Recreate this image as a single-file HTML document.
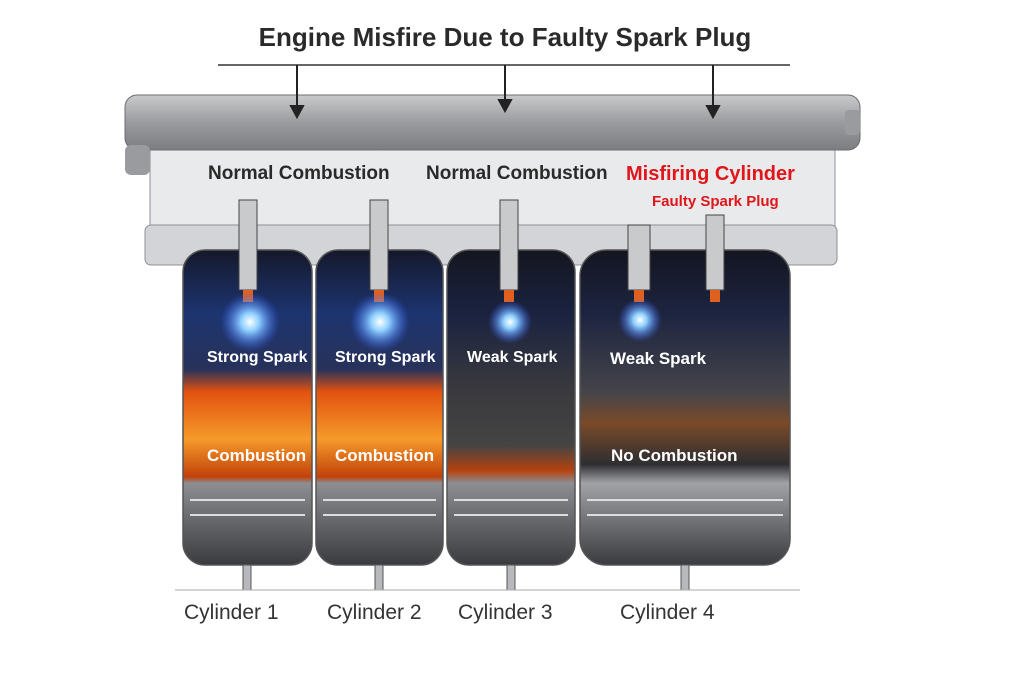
<!DOCTYPE html>
<html><head><style>
body{margin:0;background:#fff;}
#c{position:relative;width:1024px;height:683px;overflow:hidden;font-family:"Liberation Sans",sans-serif;}
.t{position:absolute;white-space:nowrap;font-weight:bold;}
</style></head><body><div id="c">
<svg width="1024" height="683" style="position:absolute;left:0;top:0">
<defs>
<linearGradient id="rail" x1="0" y1="0" x2="0" y2="1"><stop offset="0" stop-color="#c9cacc"/><stop offset=".5" stop-color="#9a9b9e"/><stop offset="1" stop-color="#7c7d80"/></linearGradient>
<linearGradient id="cyl" x1="0" y1="0" x2="0" y2="1"><stop offset="0" stop-color="#15182a"/><stop offset=".2" stop-color="#1d3470"/><stop offset=".38" stop-color="#28325a"/><stop offset=".45" stop-color="#e2520f"/><stop offset=".6" stop-color="#f59a2a"/><stop offset=".72" stop-color="#c2410a"/><stop offset=".74" stop-color="#8c8e92"/><stop offset="1" stop-color="#3a3b3e"/></linearGradient>
<linearGradient id="cyl3" x1="0" y1="0" x2="0" y2="1"><stop offset="0" stop-color="#14161f"/><stop offset=".2" stop-color="#1a2240"/><stop offset=".45" stop-color="#3a3a3e"/><stop offset=".62" stop-color="#444"/><stop offset=".7" stop-color="#b5420e"/><stop offset=".74" stop-color="#8c8e92"/><stop offset="1" stop-color="#3a3b3e"/></linearGradient>
<linearGradient id="cyl4" x1="0" y1="0" x2="0" y2="1"><stop offset="0" stop-color="#131520"/><stop offset=".2" stop-color="#1d2440"/><stop offset=".45" stop-color="#444449"/><stop offset=".55" stop-color="#7a4a28"/><stop offset=".68" stop-color="#2e2e31"/><stop offset=".74" stop-color="#a0a2a6"/><stop offset="1" stop-color="#3a3b3e"/></linearGradient>
<radialGradient id="sp"><stop offset="0" stop-color="#fff"/><stop offset=".3" stop-color="#8fd0ff"/><stop offset="1" stop-color="#3060ff" stop-opacity="0"/></radialGradient>
</defs>
<rect x="150" y="140" width="685" height="120" rx="12" fill="#e9eaec" stroke="#8f9094"/>
<rect x="145" y="225" width="692" height="40" rx="6" fill="#d3d4d7" stroke="#8f9094"/>
<rect x="125" y="95" width="735" height="55" rx="12" fill="url(#rail)" stroke="#6d6e71"/>
<rect x="125" y="145" width="25" height="30" rx="6" fill="#9a9b9e"/>
<rect x="845" y="110" width="15" height="25" rx="4" fill="#9a9b9e"/>
<line x1="218" y1="65" x2="790" y2="65" stroke="#333" stroke-width="1.5"/>
<g stroke="#222" stroke-width="2" fill="#222">
<line x1="297" y1="65" x2="297" y2="110"/><polygon points="291,106 303,106 297,117"/>
<line x1="505" y1="65" x2="505" y2="105"/><polygon points="499,100 511,100 505,111"/>
<line x1="713" y1="65" x2="713" y2="110"/><polygon points="707,106 719,106 713,117"/>
</g>
<g stroke="#555" stroke-width="1.5">
<rect x="183" y="250" width="129" height="315" rx="22" fill="url(#cyl)"/>
<rect x="316" y="250" width="127" height="315" rx="22" fill="url(#cyl)"/>
<rect x="447" y="250" width="128" height="315" rx="22" fill="url(#cyl3)"/>
<rect x="580" y="250" width="210" height="315" rx="26" fill="url(#cyl4)"/>
</g>
<g fill="none" stroke="#ddd" stroke-width="2">
<path d="M190 500 H305 M190 515 H305 M323 500 H436 M323 515 H436 M454 500 H568 M454 515 H568 M587 500 H783 M587 515 H783"/>
</g>
<g fill="#b8b9bc" stroke="#555">
<rect x="243" y="565" width="8" height="25"/><rect x="375" y="565" width="8" height="25"/><rect x="507" y="565" width="8" height="25"/><rect x="681" y="565" width="8" height="25"/>
</g>
<line x1="175" y1="590" x2="800" y2="590" stroke="#aaa"/>
<g fill="#c9cacc" stroke="#444">
<rect x="239" y="200" width="18" height="90"/><rect x="370" y="200" width="18" height="90"/><rect x="500" y="200" width="18" height="90"/><rect x="628" y="225" width="22" height="65"/><rect x="706" y="215" width="18" height="75"/>
</g>
<g fill="#e06020"><rect x="243" y="290" width="10" height="12"/><rect x="374" y="290" width="10" height="12"/><rect x="504" y="290" width="10" height="12"/><rect x="634" y="290" width="10" height="12"/><rect x="710" y="290" width="10" height="12"/></g>
<circle cx="250" cy="322" r="30" fill="url(#sp)"/><circle cx="380" cy="322" r="30" fill="url(#sp)"/><circle cx="510" cy="322" r="22" fill="url(#sp)"/><circle cx="640" cy="320" r="22" fill="url(#sp)"/>
</svg>
<div class="t" style="left:0;width:1010px;text-align:center;top:22px;font-size:26px;color:#2a2a2a">Engine Misfire Due to Faulty Spark Plug</div>
<div class="t" style="left:208px;top:163px;font-size:19px;color:#2a2a2a">Normal Combustion</div>
<div class="t" style="left:426px;top:163px;font-size:19px;color:#2a2a2a">Normal Combustion</div>
<div class="t" style="left:626px;top:163px;font-size:20px;color:#e0161b">Misfiring Cylinder</div>
<div class="t" style="left:652px;top:193px;font-size:15px;color:#e0161b">Faulty Spark Plug</div>
<div class="t" style="left:207px;top:349px;font-size:16px;color:#fff">Strong Spark</div>
<div class="t" style="left:335px;top:349px;font-size:16px;color:#fff">Strong Spark</div>
<div class="t" style="left:467px;top:349px;font-size:16px;color:#fff">Weak Spark</div>
<div class="t" style="left:610px;top:349px;font-size:17px;color:#fff">Weak Spark</div>
<div class="t" style="left:207px;top:446px;font-size:17px;color:#fff">Combustion</div>
<div class="t" style="left:335px;top:446px;font-size:17px;color:#fff">Combustion</div>
<div class="t" style="left:611px;top:446px;font-size:17px;color:#fff">No Combustion</div>
<div class="t" style="left:184px;top:601px;font-size:21px;color:#333;font-weight:normal">Cylinder 1</div>
<div class="t" style="left:327px;top:601px;font-size:21px;color:#333;font-weight:normal">Cylinder 2</div>
<div class="t" style="left:458px;top:601px;font-size:21px;color:#333;font-weight:normal">Cylinder 3</div>
<div class="t" style="left:620px;top:601px;font-size:21px;color:#333;font-weight:normal">Cylinder 4</div>
</div></body></html>
